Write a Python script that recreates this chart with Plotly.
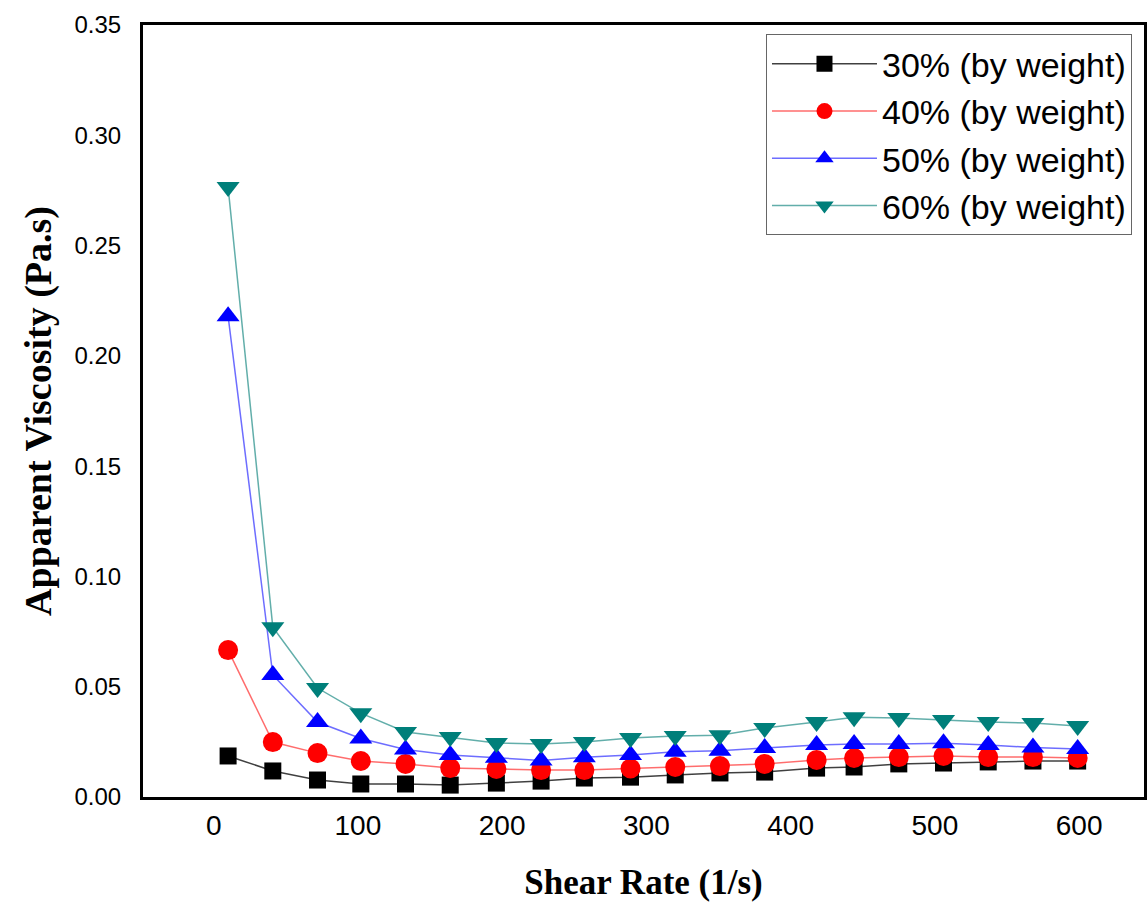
import plotly.graph_objects as go

shear_rate = [10, 41, 72, 102, 133, 164, 196, 227, 257, 289, 320, 351, 382, 418, 444, 475, 506, 537, 568, 599]

visc_30 = [0.0186, 0.0118, 0.0077, 0.0059, 0.0059, 0.0054, 0.0063, 0.0072, 0.0086, 0.0090,
           0.0100, 0.0109, 0.0113, 0.0131, 0.0136, 0.0150, 0.0154, 0.0159, 0.0163, 0.0163]
visc_40 = [0.0666, 0.0249, 0.0199, 0.0163, 0.0150, 0.0131, 0.0127, 0.0122, 0.0122, 0.0129,
           0.0136, 0.0140, 0.0150, 0.0168, 0.0177, 0.0181, 0.0186, 0.0181, 0.0181, 0.0177]
visc_50 = [0.2180, 0.0553, 0.0340, 0.0265, 0.0215, 0.0190, 0.0178, 0.0165, 0.0180, 0.0190,
           0.0205, 0.0210, 0.0222, 0.0236, 0.0240, 0.0240, 0.0244, 0.0236, 0.0224, 0.0218]
visc_60 = [0.2765, 0.0770, 0.0494, 0.0380, 0.0295, 0.0272, 0.0245, 0.0240, 0.0249, 0.0268,
           0.0276, 0.0280, 0.0313, 0.0340, 0.0362, 0.0358, 0.0349, 0.0340, 0.0335, 0.0322]

series = [
    ("30% (by weight)", visc_30, "black", "rgba(0,0,0,0.75)", "square", 17),
    ("40% (by weight)", visc_40, "red", "rgba(255,60,60,0.75)", "circle", 20),
    ("50% (by weight)", visc_50, "blue", "rgba(60,60,255,0.75)", "triangle-up", 20),
    ("60% (by weight)", visc_60, "#007f7a", "rgba(70,160,155,0.85)", "triangle-down", 20),
]

fig = go.Figure()
for name, vals, mcol, lcol, sym, size in series:
    fig.add_trace(go.Scatter(
        x=shear_rate, y=vals, name=name, mode="lines+markers",
        line=dict(color=lcol, width=1.5),
        marker=dict(color=mcol, symbol=sym, size=size, line=dict(width=0)),
    ))

fig.update_layout(
    width=1147, height=902,
    margin=dict(l=143, r=0, t=25, b=105),
    plot_bgcolor="white", paper_bgcolor="white",
    font=dict(family="Liberation Sans, Arial", color="black"),
    legend=dict(
        x=0.988, y=0.988, xanchor="right", yanchor="top",
        bgcolor="white", bordercolor="#666666", borderwidth=1,
        font=dict(size=34, family="Liberation Sans, Arial"),
        itemwidth=105, tracegroupgap=0,
    ),
    xaxis=dict(
        range=[-49, 645], tickvals=[0, 100, 200, 300, 400, 500, 600],
        showgrid=False, zeroline=False, showline=True, linecolor="black", linewidth=3,
        mirror=True, ticks="", tickfont=dict(size=28), ticklabelstandoff=1,
        title=dict(text="Shear Rate (1/s)", font=dict(family="Liberation Serif, Times New Roman", size=35, weight="bold"), standoff=30),
    ),
    yaxis=dict(
        range=[0, 0.35], tickvals=[0, 0.05, 0.10, 0.15, 0.20, 0.25, 0.30, 0.35], tickformat=".2f",
        showgrid=False, zeroline=False, showline=True, linecolor="black", linewidth=3,
        mirror=True, ticks="outside", ticklen=14, tickcolor="rgba(0,0,0,0)", tickfont=dict(size=24),
        title=dict(text="Apparent Viscosity (Pa.s)", font=dict(family="Liberation Serif, Times New Roman", size=38, weight="bold"), standoff=12),
    ),
)

fig.write_html("out.html")
